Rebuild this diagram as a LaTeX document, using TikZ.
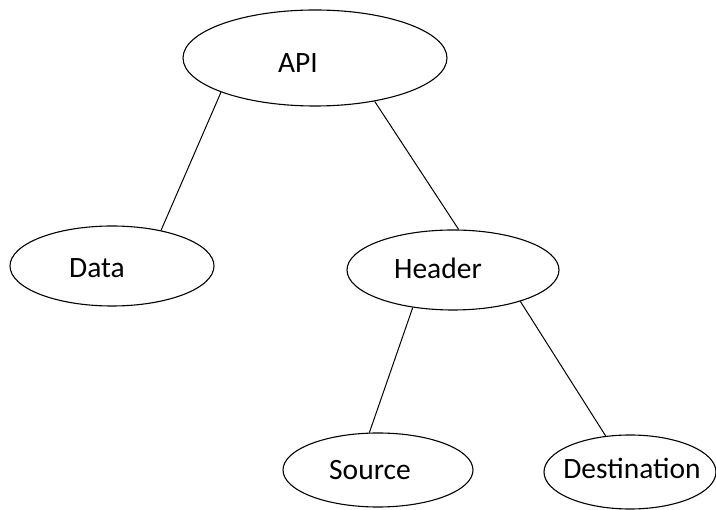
\documentclass[tikz,border=0pt]{standalone}
\usepackage{fontspec}
\setmainfont{Carlito}
\usetikzlibrary{shapes.geometric}

\begin{document}
\begin{tikzpicture}[
    x=1pt, y=-1pt,
    oval/.style={draw, ellipse, line width=1.1pt, inner sep=0pt},
    branch/.style={line width=1pt},
    every label/.style={font=\fontsize{29.5}{35}\selectfont, color=black}
    ]

\useasboundingbox (0,0) rectangle (716,510);

% root
\node[oval, minimum width=264pt, minimum height=96pt,
    label={[xshift=-17pt, yshift=-5pt]center:API}] (api) at (315,58) {};

% second level
\node[oval, minimum width=204pt, minimum height=80pt,
    label={[xshift=-15pt, yshift=-2pt]center:Data}] (data) at (112,266) {};
\node[oval, minimum width=212pt, minimum height=80pt,
    label={[xshift=-15pt, yshift=2pt]center:Header}] (header) at (453,270) {};

% leaves
\node[oval, minimum width=190pt, minimum height=74pt,
    label={[xshift=-8pt]center:Source}] (source) at (378,470) {};
\node[oval, minimum width=172pt, minimum height=74pt,
    label={[xshift=2pt, yshift=4pt]center:Destination}] (dest) at (630,472) {};

\draw[branch] (api.200) -- (data.36);
\draw[branch] (api.324) -- (header.82);
\draw[branch] (header.223) -- (source.103);
\draw[branch] (header.335) -- (dest.124);

\end{tikzpicture}
\end{document}
